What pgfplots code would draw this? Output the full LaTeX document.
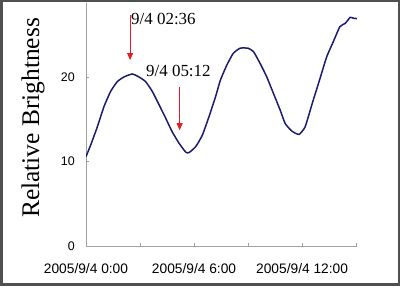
\documentclass[border=0pt]{standalone}
\usepackage{fontspec}
\setmainfont{Liberation Serif}
\setsansfont{Liberation Sans}
\usepackage{pgfplots}
\pgfplotsset{compat=1.18}
\usetikzlibrary{arrows.meta}
\definecolor{curve}{HTML}{1C1C6E}
\definecolor{axisgray}{HTML}{A0A0A0}
\definecolor{framegray}{HTML}{505050}
\definecolor{arrowred}{HTML}{E02028}
\begin{document}
\begin{tikzpicture}
\begin{axis}[
  at={(86bp,45bp)}, anchor=origin,
  scale only axis, width=271bp, height=243bp,
  xmin=0, xmax=15.05, ymin=0, ymax=28.75,
  axis x line*=bottom, axis y line*=left,
  axis line style={draw=axisgray, line width=1bp},
  xtick={0,3,6,9,12,15},
  xticklabels={2005/9/4 0:00,,2005/9/4 6:00,,2005/9/4 12:00,},
  ytick={0,10,20},
  /pgf/number format/assume math mode=true,
  tick align=inside, major tick length=3bp,
  tick style={draw=axisgray, line width=0.8bp},
  xticklabel style={font=\sffamily\fontsize{13.8}{16}\selectfont, anchor=base, yshift=-27.3bp, inner sep=0pt},
  yticklabel style={font=\sffamily\fontsize{12.5}{14}\selectfont, anchor=east, inner sep=0pt, xshift=-11bp},
  ylabel={Relative Brightness},
  ylabel style={font=\fontsize{25.5}{30}\selectfont, at={(axis description cs:-0.173,0.527)}, anchor=base},
]
\addplot[curve, line width=1.5bp, smooth, tension=0.3] coordinates {
(0,10.57) (0.26,11.95) (0.63,14.1) (1.0,16.5) (1.37,18.3) (1.74,19.45) (2.11,20.0)
(2.57,20.35) (2.94,20.0) (3.31,19.45) (3.68,18.3) (4.06,16.7) (4.43,15.1) (4.79,13.5)
(5.17,12.15) (5.54,11.1) (5.72,11.05) (6.09,11.75) (6.46,13.1) (6.83,15.3) (7.2,17.7)
(7.46,19.6) (7.82,21.4) (8.18,22.8) (8.56,23.4) (9.0,23.4) (9.3,23.0) (9.67,21.6)
(10.04,20.0) (10.4,18.1) (10.78,16.1) (11.06,14.5) (11.43,13.6) (11.83,13.2) (12.17,14.1)
(12.54,16.7) (13.0,19.85) (13.37,22.4) (13.74,24.2) (14.1,25.95) (14.4,26.35) (14.67,27.05)
(14.85,26.95) (15.05,26.9)
};
\draw[arrowred, line width=0.8bp, -{Triangle[width=6bp,length=7bp]}] (axis cs:2.45,27.3) -- (axis cs:2.45,22.0);
\draw[arrowred, line width=0.8bp, -{Triangle[width=6bp,length=7bp]}] (axis cs:5.2,18.8) -- (axis cs:5.2,13.7);
\node[anchor=base west, inner sep=0pt, font=\fontsize{17}{20}\selectfont] at (axis cs:2.5,26.15) {9/4 02:36};
\node[anchor=base west, inner sep=0pt, font=\fontsize{17}{20}\selectfont] at (axis cs:3.33,20.0) {9/4 05:12};
\node[anchor=base west, inner sep=0pt, font=\fontsize{13.5}{16}\selectfont, xshift=-2bp, yshift=-26.5bp] at (axis cs:15.05,0) {UTC};
\end{axis}
\pgfresetboundingbox
\draw[framegray, line width=2.5bp] (1.25bp,6.5bp) rectangle (398.75bp,289.75bp);
\path[use as bounding box] (0,0) rectangle (400bp,291bp);
\end{tikzpicture}
\end{document}
